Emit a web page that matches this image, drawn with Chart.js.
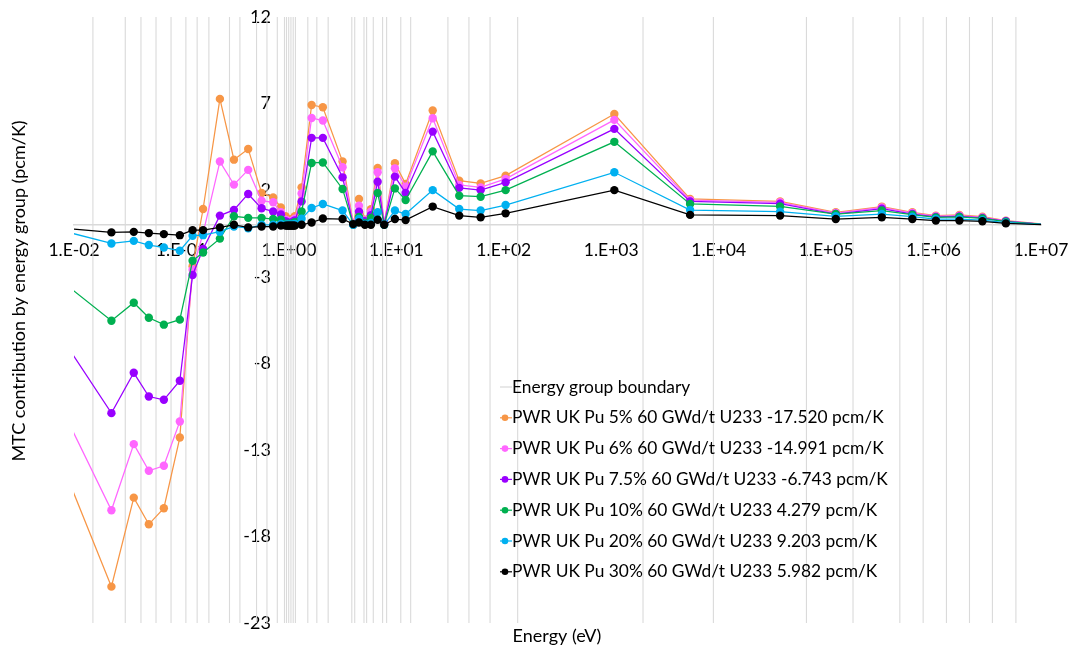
<!DOCTYPE html>
<html>
<head>
<meta charset="utf-8">
<script src="https://cdn.jsdelivr.net/npm/chart.js@4.4.1/dist/chart.umd.min.js"></script>
<style>
  html, body { margin: 0; padding: 0; background: #fff; }
</style>
</head>
<body>
<canvas id="myChart" width="1072" height="650"></canvas>
<script>
// energy of each group point (eV)
const energies = [0.00857, 0.0223, 0.036, 0.0497, 0.0686, 0.0966, 0.127, 0.159, 0.228, 0.308,
  0.418, 0.557, 0.714, 0.843, 0.93, 0.961, 0.984, 1.008, 1.032, 1.058,
  1.084, 1.11, 1.136, 1.313, 1.627, 2.07, 3.16, 3.97, 4.49, 5.10,
  5.80, 6.70, 7.71, 9.70, 12.2, 21.8, 38.5, 60.9, 104, 1069,
  5420, 37300, 123000, 330000, 635000, 1.05e6, 1.74e6, 2.85e6, 4.71e6, 1.2e7];

// energy group boundaries (eV)
const boundaries = [0.015, 0.03, 0.042, 0.058, 0.08, 0.11, 0.14, 0.18, 0.28, 0.35, 0.5, 0.625, 0.78,
  0.91, 0.95, 0.996, 1.045, 1.097, 1.15, 1.5, 1.82, 2.32,
  3.85, 4.1, 5.0, 5.29, 6.1, 7.45, 8.12, 11.0, 13.6, 30.2, 47.4, 74.5, 134.7, 1977,
  8930, 65600, 178000, 485500, 800000, 1.318e6, 2.16e6, 3.53e6, 5.84e6];

const pu5 = [-14.5, -20.9, -15.76, -17.3, -16.37, -12.29, -2.4, 0.91, 7.27, 3.76,
  4.38, 1.84, 1.58, 1.0, 0.5, 0.35, 0.3, 0.3, 0.3, 0.3,
  0.35, 0.4, 0.5, 2.16, 6.92, 6.79, 3.65, 0.1, 1.49, 0.3,
  0.9, 3.28, 0.1, 3.55, 2.36, 6.6, 2.55, 2.39, 2.84, 6.4,
  1.49, 1.35, 0.72, 1.05, 0.72, 0.53, 0.57, 0.47, 0.24, 0.0];
const pu6 = [-11.2, -16.49, -12.67, -14.21, -13.92, -11.36, -2.6, -0.5, 3.65, 2.32,
  3.17, 1.39, 1.3, 0.72, 0.3, 0.25, 0.2, 0.2, 0.2, 0.2,
  0.25, 0.3, 0.35, 1.81, 6.17, 6.02, 3.32, 0.05, 1.1, 0.25,
  0.75, 3.03, 0.1, 3.26, 2.2, 6.15, 2.3, 2.16, 2.65, 6.06,
  1.42, 1.3, 0.68, 1.0, 0.68, 0.5, 0.53, 0.43, 0.22, 0.0];
const pu75 = [-6.97, -10.88, -8.55, -9.92, -10.11, -9.01, -2.9, -1.4, 0.53, 0.86,
  1.78, 0.95, 0.77, 0.6, 0.2, 0.15, 0.1, 0.1, 0.1, 0.1,
  0.15, 0.2, 0.25, 1.35, 5.02, 5.02, 2.74, 0.0, 0.76, 0.2,
  0.55, 2.49, 0.05, 2.78, 1.84, 5.38, 2.13, 2.0, 2.45, 5.54,
  1.35, 1.22, 0.62, 0.93, 0.62, 0.45, 0.48, 0.4, 0.2, 0.0];
const pu10 = [-3.49, -5.54, -4.5, -5.37, -5.77, -5.48, -2.08, -1.6, -0.8, 0.49,
  0.4, 0.4, 0.33, 0.3, 0.05, 0.05, 0.05, 0.05, 0.05, 0.05,
  0.05, 0.1, 0.15, 0.77, 3.57, 3.6, 2.07, 0.0, 0.45, 0.1,
  0.4, 1.84, 0.0, 2.1, 1.43, 4.24, 1.68, 1.62, 2.0, 4.79,
  1.2, 1.06, 0.62, 0.82, 0.58, 0.43, 0.45, 0.37, 0.18, 0.0];
const pu20 = [-0.41, -1.08, -0.93, -1.17, -1.31, -1.5, -0.63, -0.6, -0.4, -0.1,
  -0.2, 0.0, 0.0, 0.05, 0.0, 0.0, 0.0, 0.0, 0.0, 0.0,
  0.0, 0.0, 0.05, 0.35, 0.97, 1.2, 0.82, 0.0, 0.33, 0.05,
  0.1, 0.72, 0.0, 0.82, 0.62, 2.0, 0.91, 0.82, 1.14, 3.03,
  0.85, 0.76, 0.49, 0.62, 0.47, 0.33, 0.33, 0.27, 0.12, 0.0];
const pu30 = [-0.21, -0.44, -0.41, -0.48, -0.54, -0.6, -0.31, -0.31, -0.15, 0.0,
  -0.15, -0.1, -0.1, -0.05, -0.05, -0.05, -0.05, -0.05, -0.05, -0.05,
  -0.05, -0.05, -0.05, 0.0, 0.13, 0.36, 0.33, 0.04, 0.13, 0.0,
  0.0, 0.29, 0.0, 0.33, 0.27, 1.05, 0.53, 0.43, 0.66, 2.0,
  0.57, 0.53, 0.33, 0.43, 0.33, 0.24, 0.24, 0.2, 0.08, 0.0];

const seriesNames = [
  'PWR UK Pu 5% 60 GWd/t U233 -17.520 pcm/K',
  'PWR UK Pu 6% 60 GWd/t U233 -14.991 pcm/K',
  'PWR UK Pu 7.5% 60 GWd/t U233 -6.743 pcm/K',
  'PWR UK Pu 10% 60 GWd/t U233 4.279 pcm/K',
  'PWR UK Pu 20% 60 GWd/t U233 9.203 pcm/K',
  'PWR UK Pu 30% 60 GWd/t U233 5.982 pcm/K'
];
const seriesValues = [pu5, pu6, pu75, pu10, pu20, pu30];
const seriesColors = ['#f79646', '#ff66ff', '#9900ff', '#00b050', '#00b0f0', '#000000'];
const boundaryLabel = 'Energy group boundary';
const xTickValues = [1e-2, 1e-1, 1e0, 1e1, 1e2, 1e3, 1e4, 1e5, 1e6, 1e7];
const yTickValues = [-23, -18, -13, -8, -3, 2, 7, 12];

const FONT = 'Lato, "Open Sans", sans-serif';

function expLabel(v) {
    const e = Math.round(Math.log10(v));
    return '1.E' + (e < 0 ? '-' : '+') + String(Math.abs(e)).padStart(2, '0');
}

// no extra room for the centred axes
function noPadding(scale) {
    scale.paddingLeft = 0;
    scale.paddingRight = 0;
    scale.paddingTop = 0;
    scale.paddingBottom = 0;
}

const boundaryData = [];
boundaries.forEach(b => {
    boundaryData.push({x: b, y: -23}, {x: b, y: 12}, {x: b, y: null});
});

const datasets = [{
    label: boundaryLabel,
    data: boundaryData,
    showLine: true,
    borderColor: '#dadada',
    borderWidth: 1.1,
    pointRadius: 0,
    spanGaps: false,
    order: 10
}];

seriesValues.forEach((vals, i) => {
    datasets.push({
        label: seriesNames[i],
        data: energies.map((e, j) => ({x: e, y: vals[j]})),
        showLine: true,
        borderColor: seriesColors[i],
        backgroundColor: seriesColors[i],
        borderWidth: 1.25,
        pointRadius: 4.2,
        pointBorderWidth: 0,
        pointBackgroundColor: seriesColors[i],
        order: 6 - i
    });
});

// axis titles and legend drawn on the canvas
const extrasPlugin = {
    id: 'extras',
    afterDraw(chart) {
        const ctx = chart.ctx;
        ctx.save();
        ctx.fillStyle = '#000';
        ctx.textBaseline = 'middle';

        ctx.font = '18px ' + FONT;
        ctx.textAlign = 'center';
        ctx.fillText('Energy (eV)', 557, 636);

        ctx.save();
        ctx.translate(19, 291);
        ctx.rotate(-Math.PI / 2);
        ctx.fillText('MTC contribution by energy group (pcm/K)', 0, 0);
        ctx.restore();

        // legend
        const lx = 500, ly = 387, step = 30.8;
        ctx.font = '17.35px ' + FONT;
        ctx.textAlign = 'left';
        ctx.strokeStyle = '#d9d9d9';
        ctx.lineWidth = 1.2;
        ctx.beginPath();
        ctx.moveTo(lx, ly);
        ctx.lineTo(lx + 12, ly);
        ctx.stroke();
        ctx.fillText(boundaryLabel, lx + 12, ly);
        seriesNames.forEach((name, i) => {
            const y = ly + step * (i + 1);
            ctx.strokeStyle = seriesColors[i];
            ctx.beginPath();
            ctx.moveTo(lx, y);
            ctx.lineTo(lx + 12, y);
            ctx.stroke();
            ctx.fillStyle = seriesColors[i];
            ctx.beginPath();
            ctx.arc(lx + 5, y, 3.3, 0, Math.PI * 2);
            ctx.fill();
            ctx.fillStyle = '#000';
            ctx.fillText(name, lx + 12, y);
        });
        ctx.restore();
    }
};

const ctx = document.getElementById('myChart').getContext('2d');
new Chart(ctx, {
    type: 'scatter',
    data: {datasets: datasets},
    options: {
        responsive: false,
        animation: false,
        devicePixelRatio: 1,
        layout: {padding: {left: 74, right: 31, top: 17, bottom: 27}},
        plugins: {
            legend: {display: false},
            tooltip: {enabled: false}
        },
        scales: {
            x: {
                type: 'logarithmic',
                min: 0.01,
                max: 1e7,
                position: {y: 0},
                grid: {display: false, drawTicks: false},
                border: {display: true, color: '#d9d9d9', width: 1.5},
                afterBuildTicks: scale => {
                    scale.ticks = xTickValues.map(v => ({value: v}));
                },
                afterFit: noPadding,
                ticks: {
                    autoSkip: false,
                    maxRotation: 0,
                    padding: 15,
                    color: '#000',
                    font: {family: FONT, size: 17.5},
                    callback: v => expLabel(v)
                }
            },
            y: {
                type: 'linear',
                min: -23,
                max: 12,
                // labels sit just left of 1 eV
                position: {x: 0.68},
                grid: {display: false, drawTicks: false},
                border: {display: false},
                afterBuildTicks: scale => {
                    scale.ticks = yTickValues.map(v => ({value: v}));
                },
                afterFit: noPadding,
                ticks: {
                    padding: 0,
                    color: '#000',
                    font: {family: FONT, size: 18}
                }
            }
        }
    },
    plugins: [extrasPlugin]
});
</script>
</body>
</html>
